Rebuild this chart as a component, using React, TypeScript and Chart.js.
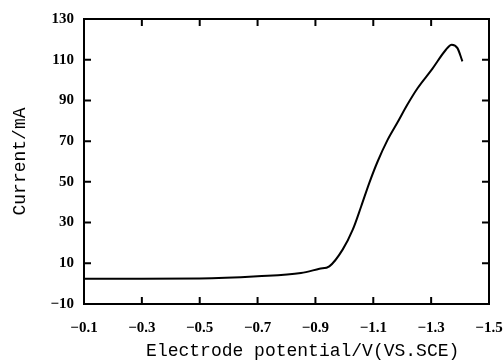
import React, { useEffect, useRef } from "react";
import { Chart, registerables } from "chart.js";

Chart.register(...registerables);

// Electrode potential (V vs. SCE) and current (mA)
const potential = [-0.1, -0.3, -0.5, -0.7, -0.85, -0.914, -0.948, -0.994, -1.029, -1.058, -1.086, -1.115, -1.149, -1.184, -1.218, -1.253, -1.304, -1.351, -1.371, -1.391, -1.408];
const current = [2.4, 2.4, 2.5, 3.6, 5.2, 7.3, 8.5, 16.7, 26.5, 37.9, 49.4, 60.0, 70.5, 79.3, 88.0, 96.0, 105.5, 114.9, 117.4, 115.7, 109.2];

const xMin = -1.5;
const xMax = -0.1;
const xStep = 0.2;
const yMin = -10;
const yMax = 130;
const yStep = 20;

const xTitle = "   Electrode potential/V(VS.SCE)";
const yTitle = "Current/mA";

const fmt = (v: number, digits: number) => {
  const s = Math.abs(v).toFixed(digits);
  return v < 0 ? "\u2212" + s : s;
};

const boxTicksPlugin = {
  id: "boxTicks",
  afterDatasetsDraw(chart: any) {
    const { ctx, chartArea } = chart;
    const { left, right, top, bottom } = chartArea;
    const xs = chart.scales.x;
    const ys = chart.scales.y;
    const tl = 7;
    ctx.save();
    ctx.strokeStyle = "#000";
    ctx.lineWidth = 2;
    ctx.beginPath();
    for (const t of xs.ticks) {
      const px = xs.getPixelForValue(t.value);
      ctx.moveTo(px, bottom);
      ctx.lineTo(px, bottom - tl);
      ctx.moveTo(px, top);
      ctx.lineTo(px, top + tl);
    }
    for (const t of ys.ticks) {
      const py = ys.getPixelForValue(t.value);
      ctx.moveTo(left, py);
      ctx.lineTo(left + tl, py);
      ctx.moveTo(right, py);
      ctx.lineTo(right - tl, py);
    }
    ctx.stroke();
    ctx.strokeRect(left, top, right - left, bottom - top);
    ctx.restore();
  },
};

export default function App() {
  const ref = useRef<HTMLCanvasElement | null>(null);

  useEffect(() => {
    if (!ref.current) return;
    const chart = new Chart(ref.current, {
      type: "line",
      data: {
        datasets: [
          {
            data: potential.map((p, i) => ({ x: p, y: current[i] })),
            borderColor: "#000",
            borderWidth: 2,
            pointRadius: 0,
            fill: false,
            cubicInterpolationMode: "monotone",
          },
        ],
      },
      options: {
        animation: false,
        responsive: false,
        devicePixelRatio: 1,
        layout: { padding: { top: 19, right: 15, left: 0, bottom: 0 } },
        plugins: { legend: { display: false }, tooltip: { enabled: false } },
        scales: {
          x: {
            type: "linear",
            reverse: true,
            min: xMin,
            max: xMax,
            grid: { display: false, drawTicks: false },
            border: { display: false },
            afterFit: (s: any) => {
              s.height = 59;
              s.paddingLeft = 0;
              s.paddingRight = 0;
            },
            ticks: {
              stepSize: xStep,
              color: "#000",
              padding: 15,
              maxRotation: 0,
              autoSkip: false,
              font: { family: "'Liberation Serif'", size: 15, weight: "bold" },
              callback: (v: any) => fmt(Number(v), 1),
            },
            title: {
              display: true,
              text: xTitle,
              color: "#000",
              padding: { top: 0, bottom: 1 },
              font: { family: "'Liberation Mono'", size: 18 },
            },
          },
          y: {
            type: "linear",
            min: yMin,
            max: yMax,
            grid: { display: false, drawTicks: false },
            border: { display: false },
            afterFit: (s: any) => {
              s.width = 84;
            },
            ticks: {
              stepSize: yStep,
              color: "#000",
              padding: 10,
              autoSkip: false,
              font: { family: "'Liberation Serif'", size: 15, weight: "bold" },
              callback: (v: any) => fmt(Math.round(Number(v)), 0),
            },
            title: {
              display: true,
              text: yTitle,
              color: "#000",
              padding: { top: 9, bottom: 0 },
              font: { family: "'Liberation Mono'", size: 18 },
            },
          },
        },
      },
      plugins: [boxTicksPlugin],
    } as any);
    return () => chart.destroy();
  }, []);

  return (
    <div style={{ position: "absolute", left: 0, top: 0, width: 504, height: 363, background: "#fff" }}>
      <canvas ref={ref} width={504} height={363} style={{ display: "block" }} />
    </div>
  );
}
